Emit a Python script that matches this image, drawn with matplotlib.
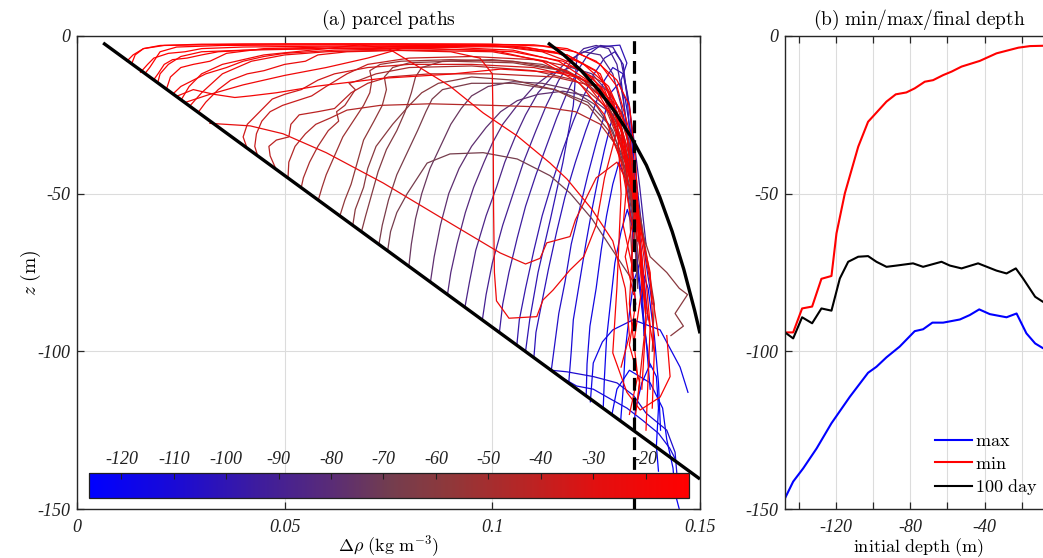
import numpy as np
import matplotlib
matplotlib.use('Agg')
import matplotlib.pyplot as plt
from matplotlib.colors import LinearSegmentedColormap, Normalize
from matplotlib.cm import ScalarMappable
from matplotlib.ticker import FixedLocator, NullFormatter

plt.rcParams['mathtext.fontset'] = 'cm'

# ---------------- Panel (a) data ----------------
slope_x = [0.0063, 0.15]
slope_z = [-2.2, -140.5]
curve_x = [0.1134, 0.1172, 0.1214, 0.1255, 0.1295, 0.1334, 0.1371, 0.1403, 0.1433, 0.1461, 0.1487, 0.15]
curve_z = [-2.2, -6, -11, -17, -24, -32, -41, -51, -62, -74, -87, -94.3]
dashed_x = 0.1341

path_depth = [
    -8, -9, -11, -12, -14, -15, -17, -18, -21, -22, -24, -27, -20, -19,
    -35, -42, -45, -48, -52, -57, -62, -66, -68, -60, -73, -38,
    -78, -82, -86, -90, -94, -98, -102, -106, -110, -114, -118, -122, -125,
    -112, -108, -116, -120, -100,
]
path_x = [
    [0.0120, 0.0135, 0.0160, 0.0200, 0.0300, 0.0500, 0.0750, 0.1000, 0.1120, 0.1200, 0.1260, 0.1300, 0.1330, 0.1350, 0.1360, 0.1340],
    [0.0131, 0.0140, 0.0160, 0.0210, 0.0400, 0.0700, 0.0950, 0.1100, 0.1180, 0.1250, 0.1300, 0.1330, 0.1345, 0.1355, 0.1370, 0.1390, 0.1385],
    [0.0153, 0.0170, 0.0185, 0.0220, 0.0260, 0.0300, 0.0400, 0.0600, 0.0900, 0.1080, 0.1180, 0.1250, 0.1290, 0.1320, 0.1350, 0.1370, 0.1360],
    [0.0163, 0.0175, 0.0190, 0.0200, 0.0240, 0.0350, 0.0600, 0.0900, 0.1050, 0.1150, 0.1220, 0.1280, 0.1320, 0.1340, 0.1365, 0.1380, 0.1370],
    [0.0184, 0.0195, 0.0210, 0.0230, 0.0265, 0.0300, 0.0340, 0.0450, 0.0650, 0.0900, 0.1050, 0.1160, 0.1240, 0.1290, 0.1330, 0.1380, 0.1390],
    [0.0194, 0.0200, 0.0220, 0.0250, 0.0300, 0.0400, 0.0600, 0.0850, 0.1050, 0.1170, 0.1240, 0.1280, 0.1310, 0.1325, 0.1315, 0.1335, 0.1345, 0.1330, 0.1355, 0.1345],
    [0.0215, 0.0225, 0.0250, 0.0280, 0.0320, 0.0360, 0.0450, 0.0600, 0.0850, 0.1050, 0.1180, 0.1260, 0.1300, 0.1310, 0.1300, 0.1290, 0.1324, 0.1356, 0.1404, 0.1428, 0.1420],
    [0.0230, 0.0250, 0.0280, 0.0310, 0.0360, 0.0400, 0.0450, 0.0500, 0.0620, 0.0800, 0.1000, 0.1120, 0.1210, 0.1270, 0.1310, 0.1340, 0.1330, 0.1350, 0.1330],
    [0.0262, 0.0320, 0.0400, 0.0500, 0.0600, 0.0700, 0.0780, 0.0850, 0.1000, 0.1120, 0.1200, 0.1270, 0.1310, 0.1350, 0.1380, 0.1400],
    [0.0273, 0.0300, 0.0350, 0.0420, 0.0500, 0.0600, 0.0750, 0.0900, 0.0970, 0.1000, 0.1002, 0.1003, 0.1005, 0.1010, 0.1040, 0.1107, 0.1122, 0.1146, 0.1187, 0.1220, 0.1250, 0.1270, 0.1300, 0.1330, 0.1350],
    [0.0293, 0.0310, 0.0340, 0.0370, 0.0410, 0.0450, 0.0500, 0.0550, 0.0580, 0.0650, 0.0800, 0.1000, 0.1130, 0.1220, 0.1280, 0.1320, 0.1350, 0.1360],
    [0.0320, 0.0417, 0.0496, 0.0600, 0.0737, 0.0898, 0.1019, 0.1080, 0.1115, 0.1131, 0.1187, 0.1200, 0.1250, 0.1300, 0.1340, 0.1360, 0.1370, 0.1350],
    [0.0252, 0.0270, 0.0300, 0.0350, 0.0450, 0.0600, 0.0680, 0.0750, 0.0819, 0.0898, 0.0978, 0.1060, 0.1139, 0.1180, 0.1240, 0.1290, 0.1320, 0.1330, 0.1310],
    [0.0242, 0.0280, 0.0330, 0.0380, 0.0417, 0.0480, 0.0578, 0.0737, 0.0898, 0.1020, 0.1180, 0.1260, 0.1300, 0.1330, 0.1345, 0.1320, 0.1340],
    # middle
    [0.0408, 0.0400, 0.0410, 0.0440, 0.0470, 0.0500, 0.0540, 0.0580, 0.0620, 0.0660, 0.0700, 0.0800, 0.0950, 0.1100, 0.1200, 0.1270, 0.1310, 0.1340, 0.1360],
    [0.0480, 0.0465, 0.0462, 0.0480, 0.0510, 0.0515, 0.0535, 0.0580, 0.0620, 0.0660, 0.0700, 0.0750, 0.0850, 0.1000, 0.1150, 0.1250, 0.1300, 0.1330, 0.1350],
    [0.0508, 0.0510, 0.0525, 0.0550, 0.0575, 0.0610, 0.0650, 0.0730, 0.0850, 0.1000, 0.1120, 0.1200, 0.1260, 0.1300, 0.1330, 0.1350],
    [0.0540, 0.0545, 0.0560, 0.0580, 0.0605, 0.0630, 0.0625, 0.0645, 0.0660, 0.0670, 0.0655, 0.0680, 0.0720, 0.0800, 0.0950, 0.1100, 0.1200, 0.1270, 0.1310, 0.1330, 0.1340],
    [0.0581, 0.0590, 0.0600, 0.0620, 0.0640, 0.0665, 0.0690, 0.0705, 0.0710, 0.0705, 0.0730, 0.0780, 0.0900, 0.1050, 0.1180, 0.1260, 0.1300, 0.1330, 0.1350, 0.1370],
    [0.0633, 0.0645, 0.0660, 0.0675, 0.0690, 0.0715, 0.0735, 0.0745, 0.0740, 0.0760, 0.0800, 0.0900, 0.1050, 0.1170, 0.1250, 0.1300, 0.1330, 0.1360, 0.1390, 0.1385],
    [0.0685, 0.0695, 0.0710, 0.0725, 0.0745, 0.0770, 0.0790, 0.0805, 0.0815, 0.0830, 0.0880, 0.1000, 0.1120, 0.1210, 0.1270, 0.1310, 0.1340, 0.1360],
    [0.0727, 0.0735, 0.0750, 0.0770, 0.0795, 0.0820, 0.0840, 0.0855, 0.0880, 0.0950, 0.1050, 0.1150, 0.1230, 0.1280, 0.1320, 0.1340, 0.1350],
    [0.0748, 0.0755, 0.0770, 0.0795, 0.0843, 0.0898, 0.0978, 0.1060, 0.1139, 0.1187, 0.1240, 0.1280, 0.1310, 0.1340],
    [0.0664, 0.0670, 0.0690, 0.0700, 0.0720, 0.0760, 0.0800, 0.0830, 0.0870, 0.0950, 0.1050, 0.1150, 0.1230, 0.1280, 0.1320, 0.1350, 0.1380, 0.1420, 0.1450, 0.1470, 0.1440, 0.1460, 0.1430],
    [0.0799, 0.0805, 0.0815, 0.0830, 0.0850, 0.0875, 0.0900, 0.0925, 0.0950, 0.0990, 0.1050, 0.1120, 0.1190, 0.1250, 0.1290, 0.1320, 0.1340, 0.1350],
    [0.0435, 0.0428, 0.0432, 0.0445, 0.0465, 0.0495, 0.0530, 0.0565, 0.0600, 0.0650, 0.0700, 0.0800, 0.0950, 0.1100, 0.1200, 0.1270, 0.1310, 0.1340],
    # deep
    [0.0851, 0.0860, 0.0875, 0.0895, 0.0920, 0.0950, 0.0985, 0.1020, 0.1060, 0.1110, 0.1170, 0.1230, 0.1280, 0.1310, 0.1340, 0.1360],
    [0.0892, 0.0900, 0.0915, 0.0935, 0.0955, 0.0980, 0.1000, 0.1025, 0.1060, 0.1100, 0.1140, 0.1190, 0.1240, 0.1280, 0.1310, 0.1330],
    [0.0934, 0.0945, 0.0960, 0.0985, 0.1010, 0.1030, 0.1055, 0.1080, 0.1110, 0.1150, 0.1180, 0.1220, 0.1260, 0.1290, 0.1310, 0.1330, 0.1345, 0.1350],
    [0.0976, 0.0985, 0.1000, 0.1025, 0.1050, 0.1075, 0.1105, 0.1130, 0.1160, 0.1190, 0.1220, 0.1250, 0.1280, 0.1300, 0.1315, 0.1330, 0.1350],
    [0.1017, 0.1025, 0.1040, 0.1060, 0.1080, 0.1105, 0.1130, 0.1155, 0.1180, 0.1205, 0.1230, 0.1260, 0.1290, 0.1310, 0.1325, 0.1340, 0.1355, 0.1370],
    [0.1059, 0.1065, 0.1080, 0.1100, 0.1120, 0.1145, 0.1170, 0.1195, 0.1220, 0.1245, 0.1270, 0.1295, 0.1315, 0.1325, 0.1335, 0.1350, 0.1365],
    [0.1100, 0.1105, 0.1120, 0.1135, 0.1155, 0.1175, 0.1200, 0.1225, 0.1250, 0.1270, 0.1290, 0.1315, 0.1330, 0.1340, 0.1355, 0.1370, 0.1385],
    [0.1142, 0.1150, 0.1160, 0.1175, 0.1190, 0.1210, 0.1230, 0.1250, 0.1270, 0.1285, 0.1305, 0.1320, 0.1335, 0.1345, 0.1360, 0.1375],
    [0.1184, 0.1190, 0.1195, 0.1210, 0.1225, 0.1240, 0.1255, 0.1270, 0.1285, 0.1300, 0.1315, 0.1330, 0.1345, 0.1360, 0.1365],
    [0.1226, 0.1228, 0.1235, 0.1250, 0.1262, 0.1275, 0.1290, 0.1305, 0.1320, 0.1335, 0.1350, 0.1365, 0.1380],
    [0.1267, 0.1270, 0.1275, 0.1285, 0.1295, 0.1310, 0.1325, 0.1340, 0.1355, 0.1370, 0.1380],
    [0.1309, 0.1315, 0.1320, 0.1330, 0.1340, 0.1355, 0.1375, 0.1390, 0.1400, 0.1405],
    [0.1340, 0.1345, 0.1360, 0.1380, 0.1395, 0.1400, 0.1395, 0.1400],
    [0.1163, 0.1203, 0.1243, 0.1283, 0.1324, 0.1363, 0.1400, 0.1427, 0.1440],
    [0.1142, 0.1180, 0.1243, 0.1300, 0.1340, 0.1370, 0.1420, 0.1440, 0.1445],
    [0.1236, 0.1243, 0.1265, 0.1290, 0.1339, 0.1404, 0.1452, 0.1471],
    [0.1288, 0.1300, 0.1330, 0.1380, 0.1410, 0.1420, 0.1435, 0.1440, 0.1450],
    [0.1080, 0.1090, 0.1110, 0.1140, 0.1170, 0.1195, 0.1204, 0.1250, 0.1307, 0.1324, 0.1310, 0.1320, 0.1330, 0.1340, 0.1335, 0.1345],
]
path_z = [
    [-8, -6, -4, -3, -2.6, -2.5, -2.5, -2.6, -3.2, -5, -9, -16, -30, -55, -80, -98],
    [-9, -6, -4, -3, -2.6, -2.5, -2.6, -2.8, -4, -8, -14, -22, -40, -65, -85, -100, -118],
    [-11.5, -9, -7, -5.5, -5, -4, -3.5, -3.2, -3, -3.5, -6, -11, -20, -35, -60, -90, -112],
    [-12, -10, -7, -5, -3.5, -3, -2.8, -2.8, -3.2, -5, -9, -16, -28, -48, -70, -92, -125],
    [-14, -12, -9, -7.5, -7, -6, -5, -4.2, -3.8, -3.6, -4.5, -8, -15, -26, -45, -75, -100],
    [-15, -12, -9, -6.5, -5, -4.5, -4, -4, -5, -8, -13, -20, -30, -45, -60, -72, -85, -98, -110, -120],
    [-17, -13, -10, -9, -8, -5.5, -4, -3.5, -3.3, -3.5, -6, -12, -25, -50, -79.6, -100.5, -113, -118.6, -114.5, -108, -95],
    [-18.5, -16, -14, -12, -10, -8, -6.5, -5.5, -4.5, -4, -4.5, -8, -15, -25, -40, -62, -85, -108, -120],
    [-21, -18.5, -15.5, -12.5, -10, -7, -4, -3, -3, -5, -9, -17, -30, -55, -78, -95],
    [-22, -18, -12, -8, -6, -5, -4.5, -5, -7, -12, -30, -55, -75, -84, -89.5, -89, -83.7, -80.6, -74.2, -70, -60, -45, -30, -40, -65],
    [-24, -21, -17, -14, -12, -11, -9, -8, -6, -5, -4.5, -5, -8, -14, -24, -38, -58, -75],
    [-27.7, -28.5, -31, -37, -46.6, -59.3, -68.8, -72.3, -70.5, -65.6, -63.6, -58.3, -45, -40, -50, -70, -90, -115],
    [-20, -16, -12, -9, -6, -4, -2.8, -4, -9.5, -15.9, -24.4, -31.7, -40.3, -45.4, -55, -65, -80, -95, -105],
    [-19, -17, -18.5, -19.5, -19, -18, -15.9, -13.4, -12.1, -10.5, -11.8, -16, -24, -38, -55, -70, -82],
    # middle
    [-35, -32, -28, -24, -20, -18.5, -17, -14, -12, -11, -10, -9, -9, -10, -13, -20, -32, -50, -72],
    [-42.5, -38, -35, -33, -32, -28, -25, -24, -23, -18, -15, -13, -12, -12, -13, -16, -22, -35, -55],
    [-45, -40, -35, -31, -28, -26, -23.5, -22, -21.5, -22, -22.5, -24, -28, -35, -48, -65],
    [-48, -45, -40, -35, -30, -27, -24, -22, -19, -17, -15, -14, -12, -10, -9.5, -11, -14, -22, -35, -55, -80],
    [-52, -48, -44, -38, -32, -27, -22, -18, -14, -11, -9, -8, -7.5, -8, -11, -17, -28, -45, -68, -88],
    [-57, -52, -47, -40, -33, -27, -22, -17, -13, -10, -8.5, -8, -8.5, -11, -16, -24, -38, -60, -85, -100],
    [-62, -57, -50, -43, -36, -30, -24, -18, -13, -10, -8, -7.5, -9, -13, -20, -30, -45, -62],
    [-66, -60, -52, -44, -37, -30, -24, -20, -17, -15, -15, -17, -21, -28, -40, -58, -80],
    [-68, -62, -56, -50, -40.3, -37.4, -37, -39, -44.3, -49.8, -58, -66, -72, -78],
    [-60, -55, -48, -42, -35, -28, -22, -18, -15, -13, -14, -17, -22, -30, -42, -58, -70, -75, -80, -82, -88, -92, -95],
    [-73, -66, -58, -50, -42, -35, -28, -23, -19, -16, -14.5, -15, -17, -22, -30, -42, -60, -78],
    [-38, -35, -31, -27, -24, -22, -20.5, -19, -16, -12, -9, -7, -6.5, -7.5, -10, -15, -24, -40],
    # deep
    [-78, -70, -60, -50, -42, -35, -29, -24, -20.5, -18.5, -17.5, -19, -24, -33, -48, -62],
    [-82, -75, -66, -56, -48, -40, -34, -28, -22, -16, -12, -10, -12, -18, -28, -42],
    [-86, -78, -68, -57, -48, -40, -32, -25, -18, -12, -8, -5, -6, -12, -22, -36, -55, -75],
    [-90, -82, -72, -60, -50, -40, -30, -22, -14, -8, -4, -3, -4, -9, -20, -35, -50],
    [-94, -85, -75, -64, -54, -44, -35, -26, -18, -11, -6, -3, -3.5, -8, -18, -32, -48, -66],
    [-98, -90, -80, -68, -57, -46, -36, -27, -19, -12, -7, -5, -9, -20, -40, -60, -80],
    [-102, -94, -84, -74, -62, -51, -40, -30, -21, -14, -10, -12, -22, -38, -55, -72, -85],
    [-106, -98, -88, -78, -66, -55, -44, -34, -25, -18, -15, -20, -32, -50, -70, -90],
    [-110, -100, -90, -78, -66, -55, -45, -36, -28, -22, -25, -35, -52, -75, -95],
    [-114, -104, -92, -80, -68, -57, -47, -40, -45, -58, -75, -92, -105],
    [-118, -108, -96, -84, -72, -62, -55, -62, -78, -96, -112],
    [-122, -112, -100, -88, -78, -72, -80, -95, -110, -125],
    [-125, -118, -110, -104, -108, -118, -130, -138],
    [-108, -111, -112, -115, -118, -122, -126, -130.7, -134],
    [-106, -106.5, -108, -110, -114, -119.6, -125, -132, -140],
    [-116, -103.7, -97, -93.2, -90, -93.2, -105, -113],
    [-120, -112, -106, -110, -118, -128, -137, -145, -150],
    [-100, -90, -75, -58, -40, -22, -6, -3.5, -2.9, -8.6, -14, -25, -40, -55, -70, -85],
]

cbar_ticks = [-120, -110, -100, -90, -80, -70, -60, -50, -40, -30, -20]
cbar_min, cbar_max = -126.2, -11.7

# ---------------- Panel (b) data ----------------
red_init = [-147.4, -143, -138.2, -132.8, -127.8, -122.4, -119.7, -115.2, -108, -102.7, -98.2, -92.8,
            -87.8, -82.1, -77.6, -72.2, -67.7, -62.3, -57.8, -52.4, -42.6, -33.6, -21.8, -15.6, -8.6, -3.2]
red_min = [-94, -94, -86.4, -85.8, -77, -76.1, -62.6, -49.9, -35.1, -27.2, -24.3, -20.8,
           -18.5, -17.9, -16.6, -14.5, -14, -12.4, -11.3, -9.7, -7.9, -5.5, -3.7, -3.2, -3.1, -3.1]
blk_init = [-147.4, -143, -138.2, -132.8, -127.8, -122.4, -117.9, -113.4, -108, -102.7, -98.2, -92.8,
            -87.4, -78.5, -73.1, -63.2, -58.7, -52.4, -43.5, -33.6, -28.2, -23.2, -19.3, -12.8, -8.6, -3.2]
blk_final = [-94, -95.9, -89.2, -91.1, -86.4, -87.1, -76.9, -71.6, -70, -69.8, -71.6, -73.2,
             -72.8, -72.1, -73.2, -71.6, -72.8, -73.7, -72.1, -74.4, -75.3, -73.7, -76.9, -82.7, -84.3, -85]
blu_init = [-147.4, -143, -137.6, -130.4, -122.4, -112.5, -102.7, -98.2, -92.8, -85.7, -77.6, -73.1,
            -68.1, -62.3, -53.3, -48, -42.9, -37.2, -28.2, -22.8, -17.5, -12.8, -8.6, -3.2]
blu_max = [-146.6, -141.3, -137.1, -130.8, -122.8, -114.4, -106.8, -104.9, -101.9, -98.5, -93.6, -93,
           -90.9, -90.9, -89.9, -88.5, -86.7, -88.2, -89.2, -88, -94.3, -97.5, -99, -100]

# ---------------- Figure ----------------
W, H = 1043, 558
fig = plt.figure(figsize=(W / 100, H / 100), dpi=100)

def px_axes(l, t, r, b):
    return fig.add_axes([l / W, 1 - b / H, (r - l) / W, (b - t) / H])

spine_col = '#262626'
grid_col = '#dcdcdc'

cmap = LinearSegmentedColormap.from_list('br', [
    (0.00, (0.00, 0.00, 1.00)),
    (0.14, (0.10, 0.04, 0.84)),
    (0.28, (0.24, 0.11, 0.62)),
    (0.40, (0.35, 0.17, 0.47)),
    (0.50, (0.45, 0.24, 0.31)),
    (0.60, (0.56, 0.22, 0.23)),
    (0.72, (0.71, 0.15, 0.15)),
    (0.85, (0.89, 0.06, 0.06)),
    (1.00, (1.00, 0.00, 0.00)),
])
norm = Normalize(vmin=cbar_min, vmax=cbar_max)

def style_labels(labels):
    for lab in labels:
        lab.set_fontfamily('Liberation Serif')
        lab.set_fontstyle('italic')
        lab.set_fontsize(13)
        lab.set_color('#202020')

def style_axes(ax):
    for s in ax.spines.values():
        s.set_color(spine_col)
        s.set_linewidth(1.0)
    ax.tick_params(which='both', direction='in', length=5, width=0.9, color=spine_col,
                   top=True, right=True)
    ax.tick_params(axis='y', pad=5)
    ax.tick_params(axis='x', pad=7.5)
    style_labels(ax.get_xticklabels() + ax.get_yticklabels())

AX_H = 473.0

# ---- panel a
ax = px_axes(77, 36, 700, 509)
ax.set_xlim(0, 0.15)
ax.set_ylim(-150, 0)
ax.set_xticks([0, 0.05, 0.1, 0.15])
ax.set_xticklabels(['0', '0.05', '0.1', '0.15'])
ax.set_yticks([-150, -100, -50, 0])
ax.set_yticklabels(['-150', '-100', '-50', '0'])
ax.grid(True, color=grid_col, linewidth=0.8)
ax.set_axisbelow(True)
order = np.argsort(path_depth)
for i in order:
    ax.plot(path_x[i], path_z[i], color=cmap(norm(path_depth[i])), lw=0.9, zorder=2,
            solid_joinstyle='round')
ax.plot(slope_x, slope_z, color='black', lw=2.4, zorder=3, solid_capstyle='butt')
ax.plot(curve_x, curve_z, color='black', lw=2.4, zorder=3, solid_capstyle='butt')
ax.axvline(dashed_x, color='black', lw=2.3, ls=(0, (4, 2.2)), zorder=3)
style_axes(ax)
ax.set_title(r'$\mathrm{(a)\ parcel\ paths}$', fontsize=14, pad=8)
ax.set_xlabel(r'$\Delta\rho\ \mathrm{(kg\ m^{-3})}$', fontsize=13, va='center')
ax.xaxis.set_label_coords(0.5, -(546 - 509) / AX_H)
ax.set_ylabel(r'$z\ \mathrm{(m)}$', fontsize=14, va='center')
ax.yaxis.set_label_coords(-(77 - 31) / 623.0, 0.5)

cax = ax.inset_axes([12 / 623, 11 / 473, 600 / 623, 25 / 473])
cax.set_zorder(5)
cb = fig.colorbar(ScalarMappable(norm=norm, cmap=cmap), cax=cax, orientation='horizontal')
cb.set_ticks(cbar_ticks)
cb.outline.set_linewidth(0.9)
cb.outline.set_edgecolor('#202020')
cax.xaxis.set_ticks_position('top')
cax.xaxis.set_label_position('top')
cax.tick_params(direction='in', length=4, width=0.8, color='#202020', pad=3.5)
cax.set_xticklabels([str(t) for t in cbar_ticks])
style_labels(cax.get_xticklabels())

# ---- panel b
bx = px_axes(785, 36, 1053, 509)
bx.set_xlim(-147.4, -3.2)
bx.set_ylim(-150, 0)
bx.xaxis.set_major_locator(FixedLocator([-120, -80, -40, 0]))
bx.xaxis.set_minor_locator(FixedLocator([-140, -100, -60, -20]))
bx.xaxis.set_minor_formatter(NullFormatter())
bx.set_xticklabels(['-120', '-80', '-40', '0'])
bx.set_yticks([-150, -100, -50, 0])
bx.set_yticklabels(['-150', '-100', '-50', '0'])
bx.grid(True, which='both', color=grid_col, linewidth=0.8)
bx.set_axisbelow(True)
bx.plot(blu_init, blu_max, color='#0000ff', lw=1.5, label=r'$\mathrm{max}$')
bx.plot(red_init, red_min, color='#ff0000', lw=1.5, label=r'$\mathrm{min}$')
bx.plot(blk_init, blk_final, color='black', lw=1.5, label=r'$\mathrm{100\ day}$')
style_axes(bx)
bx.set_title(r'$\mathrm{(b)\ min/max/final\ depth}$', fontsize=14, pad=8)
bx.set_xlabel(r'$\mathrm{initial\ depth\ (m)}$', fontsize=13, va='center')
bx.xaxis.set_label_coords(0.5, -(548 - 509) / AX_H)
leg = bx.legend(loc='lower left', bbox_to_anchor=(0.56, 0.025), frameon=False,
                prop={'size': 13}, handlelength=2.05,
                handletextpad=0.15, labelspacing=0.25, borderpad=0, borderaxespad=0)

fig.savefig('out.png', dpi=100)
